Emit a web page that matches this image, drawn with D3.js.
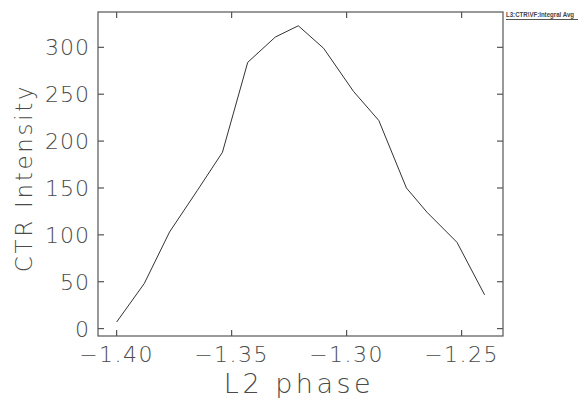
<!DOCTYPE html>
<html>
<head>
<meta charset="utf-8">
<script src="https://cdn.jsdelivr.net/npm/d3@7"></script>
<style>
  body { margin: 0; background: #fff; }
  svg text { font-family: "DejaVu Sans", sans-serif; font-weight: 200; fill: #4a4a4a; }
</style>
</head>
<body>
<svg id="chart" width="579" height="402"></svg>
<script>
// values
var phase = [-1.400, -1.388, -1.377, -1.365, -1.354, -1.343, -1.331, -1.321,
             -1.310, -1.297, -1.286, -1.274, -1.265, -1.252, -1.240];
var intensity = [7, 48, 103, 147, 188, 284, 311, 323,
                 299, 253, 222, 150, 124, 92, 36];
var xTicks = [-1.40, -1.35, -1.30, -1.25];
var yTicks = [0, 50, 100, 150, 200, 250, 300];
var xTitle = "L2 phase";
var yTitle = "CTR Intensity";
var legendLabel = "L3:CTR\\VF:Integral Avg";

var data = phase.map(function(p, i) { return { x: p, y: intensity[i] }; });

// plot box (note: "top" is reserved on window, so use box.*)
var box = { left: 98, right: 503, top: 12, bottom: 336 };

var xScale = d3.scaleLinear().domain([-1.4081, -1.2320]).range([box.left, box.right]);
var yScale = d3.scaleLinear().domain([-7.9, 337.7]).range([box.bottom, box.top]);

var svg = d3.select("#chart");
var axisColor = "#555";

// frame
svg.append("rect")
    .attr("x", box.left).attr("y", box.top)
    .attr("width", box.right - box.left).attr("height", box.bottom - box.top)
    .attr("fill", "none")
    .attr("stroke", axisColor)
    .attr("stroke-width", 1.2);

// ticks on all four sides, pointing inward
var tickLen = 6;
var g = svg.append("g").attr("stroke", axisColor).attr("stroke-width", 1.2);

g.selectAll("line.xb").data(xTicks).enter().append("line")
    .attr("x1", function(d) { return xScale(d); })
    .attr("x2", function(d) { return xScale(d); })
    .attr("y1", box.bottom).attr("y2", box.bottom - tickLen);
g.selectAll("line.xt").data(xTicks).enter().append("line")
    .attr("x1", function(d) { return xScale(d); })
    .attr("x2", function(d) { return xScale(d); })
    .attr("y1", box.top).attr("y2", box.top + tickLen);
g.selectAll("line.yl").data(yTicks).enter().append("line")
    .attr("y1", function(d) { return yScale(d); })
    .attr("y2", function(d) { return yScale(d); })
    .attr("x1", box.left).attr("x2", box.left + tickLen);
g.selectAll("line.yr").data(yTicks).enter().append("line")
    .attr("y1", function(d) { return yScale(d); })
    .attr("y2", function(d) { return yScale(d); })
    .attr("x1", box.right).attr("x2", box.right - tickLen);

// tick labels
svg.selectAll("text.xl").data(xTicks).enter().append("text")
    .attr("x", function(d) { return xScale(d); })
    .attr("y", 362)
    .attr("text-anchor", "middle")
    .attr("font-size", 22)
    .attr("letter-spacing", 1.5)
    .text(function(d) { return "\u2212" + Math.abs(d).toFixed(2); });

svg.selectAll("text.yl").data(yTicks).enter().append("text")
    .attr("x", 90)
    .attr("y", function(d) { return yScale(d) + 8; })
    .attr("text-anchor", "end")
    .attr("font-size", 22)
    .attr("letter-spacing", 1)
    .text(function(d) { return d; });

// axis titles
svg.append("text")
    .attr("x", 299).attr("y", 393)
    .attr("text-anchor", "middle")
    .attr("font-size", 27)
    .attr("letter-spacing", 3.5)
    .text(xTitle);

svg.append("text")
    .attr("transform", "translate(32,178) rotate(-90)")
    .attr("text-anchor", "middle")
    .attr("font-size", 23)
    .attr("letter-spacing", 2.7)
    .text(yTitle);

// data line
var line = d3.line()
    .x(function(d) { return xScale(d.x); })
    .y(function(d) { return yScale(d.y); });

svg.append("path")
    .datum(data)
    .attr("d", line)
    .attr("fill", "none")
    .attr("stroke", "#333")
    .attr("stroke-width", 1);

// legend label, top right
svg.append("text")
    .attr("x", 506).attr("y", 17)
    .attr("font-size", 6.5)
    .style("font-family", "'Liberation Sans Narrow', 'Liberation Sans', sans-serif")
    .style("font-weight", "bold")
    .style("fill", "#444")
    .attr("textLength", 68)
    .attr("lengthAdjust", "spacingAndGlyphs")
    .text(legendLabel);
svg.append("line")
    .attr("x1", 506).attr("x2", 578)
    .attr("y1", 19.5).attr("y2", 19.5)
    .attr("stroke", "#555")
    .attr("stroke-width", 1);
</script>
</body>
</html>
